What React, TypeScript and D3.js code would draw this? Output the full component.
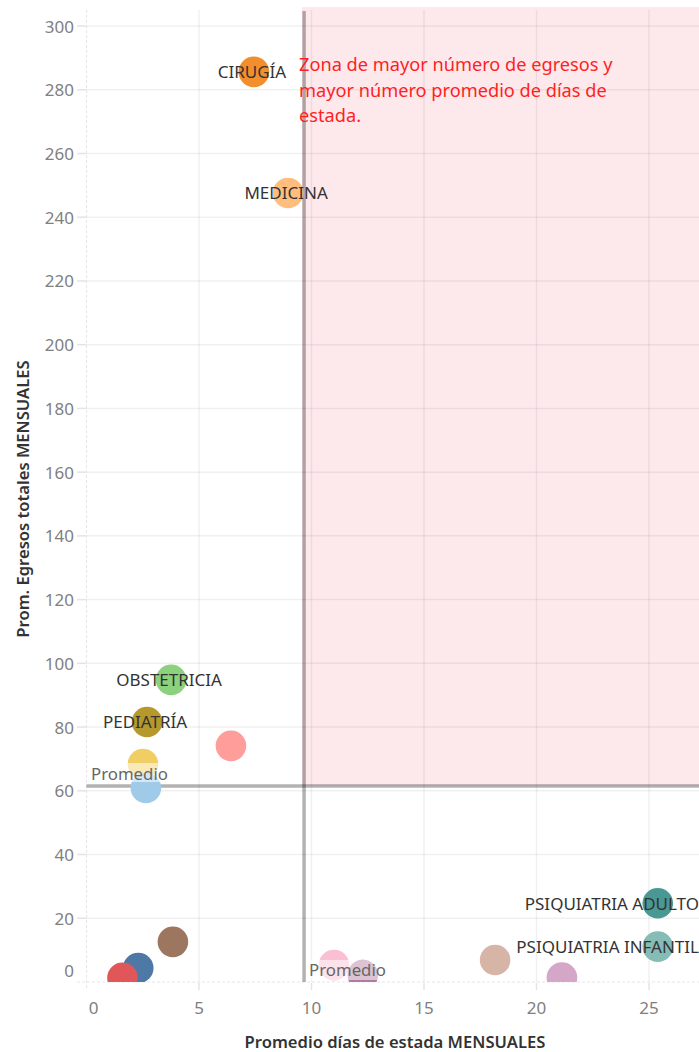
import React from "react";
import * as d3 from "d3";

const services = [
  "CIRUGÍA", "MEDICINA", "OBSTETRICIA", "PEDIATRÍA", "S5", "S6", "S7",
  "S8", "S9", "S10", "S11", "S12", "S13", "S14", "PSIQUIATRIA ADULTO", "PSIQUIATRIA INFANTIL",
];
const showLabel = [true, true, true, true, false, false, false, false, false, false, false, false, false, false, true, true];
const diasEstada = [7.44, 8.96, 3.76, 2.69, 2.51, 2.64, 6.42, 2.3, 1.6, 3.84, 11.0, 12.28, 18.16, 21.13, 25.39, 25.39];
const egresos = [285.6, 247.6, 94.8, 81.6, 68.4, 60.9, 74.1, 4.4, 1.3, 12.6, 5.3, 2.2, 6.9, 1.4, 24.7, 11.1];
const colors = [
  "#f28e2b", "#ffbe7d", "#8cd17d", "#b6992d", "#f1ce63", "#a0cbe8", "#ff9d9a",
  "#4e79a7", "#e15759", "#9d7660", "#fabfd2", "#b07aa1", "#d7b5a6", "#d4a6c8", "#499894", "#86bcb6",
];
const xTicks = [0, 5, 10, 15, 20, 25];
const yTicks = [0, 20, 40, 60, 80, 100, 120, 140, 160, 180, 200, 220, 240, 260, 280, 300];
const avgDias = 9.67;
const avgEgresos = 61.5;
const annotation = ["Zona de mayor número de egresos y", "mayor número promedio de días de", "estada."];

const W = 699;
const H = 1052;
const FONT = "'Noto Sans', 'Open Sans', sans-serif";

function measure(text: string, size: number) {
  const c = document.createElement("canvas").getContext("2d");
  if (!c) return text.length * size * 0.6;
  c.font = `${size}px 'Noto Sans'`;
  return c.measureText(text).width;
}

export default function App() {
  const left = 86.5;
  const x = d3.scaleLinear().domain([0, 25]).range([left, left + 25 * 22.5]);
  const y = d3.scaleLinear().domain([0, 300]).range([982, 26]);
  const plotTop = 10;
  const plotBottom = y(0);
  const plotRight = W;
  const r = 15.3;
  const ax = x(avgDias);
  const ay = y(avgEgresos);

  const labelSize = 17;

  return (
    <svg width={W} height={H} style={{ position: "absolute", left: 0, top: 0, background: "#fff" }} fontFamily={FONT}>
      <defs>
        <clipPath id="plot">
          <rect x={78} y={plotTop - 3} width={plotRight - 78} height={plotBottom - plotTop + 3} />
        </clipPath>
      </defs>
      {/* highlight zone */}
      <rect x={ax - 2} y={7} width={plotRight - ax + 2} height={ay - 7} fill="#fde8ec" />
      {/* gridlines */}
      {yTicks.filter((t) => t > 0).map((t) => (
        <g key={"gy" + t}>
          <line x1={77} x2={left} y1={y(t)} y2={y(t)} stroke="#e4e4e4" strokeWidth={1.5} />
          <line x1={left} x2={plotRight} y1={y(t)} y2={y(t)} stroke="rgba(0,0,0,0.06)" strokeWidth={1.5} />
        </g>
      ))}
      {xTicks.filter((t) => t > 0).map((t) => (
        <g key={"gx" + t}>
          <line x1={x(t)} x2={x(t)} y1={plotTop} y2={plotBottom} stroke="rgba(0,0,0,0.06)" strokeWidth={1.5} />
          <line x1={x(t)} x2={x(t)} y1={plotBottom + 1} y2={plotBottom + 8} stroke="#e4e4e4" strokeWidth={1.5} />
        </g>
      ))}
      {/* zero lines */}
      <line x1={left} x2={left} y1={plotTop} y2={plotBottom + 8} stroke="#e6e6e6" strokeWidth={1} strokeDasharray="3,2" />
      <line x1={77} x2={plotRight} y1={plotBottom} y2={plotBottom} stroke="#e6e6e6" strokeWidth={1} strokeDasharray="3,2" />

      {/* reference lines */}
      <line x1={ax} x2={ax} y1={11} y2={plotBottom} stroke="rgba(0,0,0,0.3)" strokeWidth={3.5} />
      <line x1={left} x2={plotRight} y1={ay} y2={ay} stroke="rgba(0,0,0,0.3)" strokeWidth={3.5} />

      {/* points */}
      <g clipPath="url(#plot)">
        {services.map((s, i) => (
          <circle key={s} cx={x(diasEstada[i])} cy={y(egresos[i])} r={r} fill={colors[i]} />
        ))}
      </g>

      {/* reference line labels */}
      <rect x={89} y={ay - 23} width={80} height={19} fill="rgba(255,255,255,0.55)" />
      <text x={91} y={ay - 13} fontSize={16.8} fill="#666" dominantBaseline="central">Promedio</text>
      <rect x={ax + 3} y={plotBottom - 22} width={80} height={20} fill="rgba(255,255,255,0.55)" />
      <text x={ax + 5} y={plotBottom - 13} fontSize={16.8} fill="#666" dominantBaseline="central">Promedio</text>

      {/* mark labels */}
      {services.map((s, i) => {
        if (!showLabel[i]) return null;
        const cx = x(diasEstada[i]);
        const w = measure(s, labelSize);
        let tx = cx - 2;
        let anchor: "middle" | "end" = "middle";
        if (tx + w / 2 > W) {
          tx = W;
          anchor = "end";
        }
        return (
          <text key={"l" + s} x={tx} y={y(egresos[i])} fontSize={labelSize} fill="#333" textAnchor={anchor} dominantBaseline="central">
            {s}
          </text>
        );
      })}

      {/* annotation */}
      {annotation.map((line, i) => (
        <text key={"a" + i} x={299} y={64 + i * 25.7} fontSize={18.2} fill="#ff1f1f" dominantBaseline="central">
          {line}
        </text>
      ))}

      {/* axes tick labels */}
      {yTicks.map((t) => (
        <text key={"yt" + t} x={74} y={t === 0 ? 970 : y(t)} fontSize={17} fill="#808080" textAnchor="end" dominantBaseline="central">
          {t}
        </text>
      ))}
      {xTicks.map((t) => (
        <text key={"xt" + t} x={t === 0 ? x(t) + 7 : x(t)} y={1007} fontSize={17} fill="#808080" textAnchor="middle" dominantBaseline="central">
          {t}
        </text>
      ))}

      {/* axis titles */}
      <text x={395} y={1041} fontSize={16.6} fontWeight={600} fill="#333" textAnchor="middle" dominantBaseline="central">
        Promedio días de estada MENSUALES
      </text>
      <text transform={`translate(22,499) rotate(-90)`} fontSize={16.6} fontWeight={600} fill="#333" textAnchor="middle" dominantBaseline="central">
        Prom. Egresos totales MENSUALES
      </text>
    </svg>
  );
}
